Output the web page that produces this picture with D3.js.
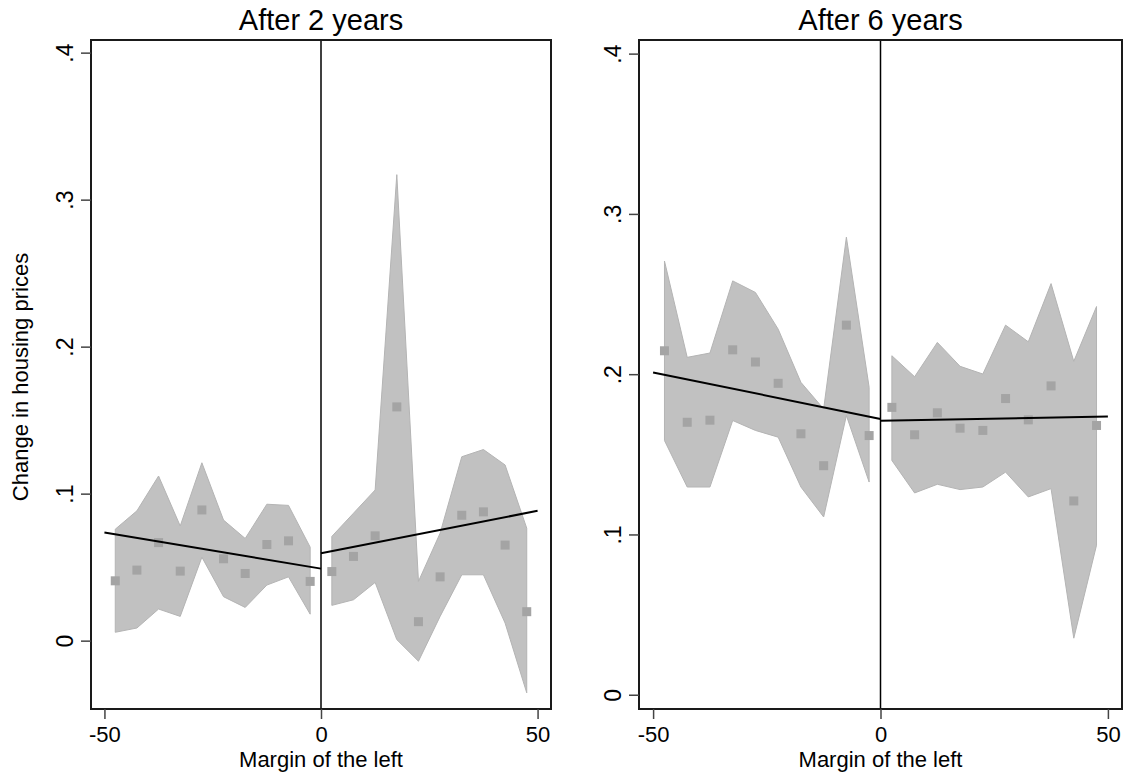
<!DOCTYPE html>
<html>
<head>
<meta charset="utf-8">
<script src="https://cdn.jsdelivr.net/npm/d3@7"></script>
<style>
  body { margin: 0; background: #fff; }
  text { font-family: "Liberation Sans", Arial, sans-serif; fill: #000; }
</style>
</head>
<body>
<div id="chart-area"></div>
<script>
// bin midpoints (margin of the left)
var bins = [-47.5, -42.5, -37.5, -32.5, -27.5, -22.5, -17.5, -12.5, -7.5, -2.5,
            2.5, 7.5, 12.5, 17.5, 22.5, 27.5, 32.5, 37.5, 42.5, 47.5];

// after 2 years
var mean2  = [0.0407, 0.048, 0.0667, 0.0473, 0.0889, 0.0557, 0.0457, 0.0654, 0.0679, 0.0403,
              0.047, 0.0573, 0.0713, 0.159, 0.0129, 0.0434, 0.0853, 0.0876, 0.065, 0.0197];
var upper2 = [0.0758, 0.0883, 0.112, 0.078, 0.121, 0.082, 0.0695, 0.0928, 0.092, 0.0636,
              0.0709, 0.0867, 0.1025, 0.317, 0.0403, 0.0731, 0.1251, 0.130, 0.1195, 0.0765];
var lower2 = [0.0057, 0.0086, 0.0215, 0.0165, 0.0568, 0.0299, 0.0226, 0.0378, 0.0434, 0.018,
              0.024, 0.0278, 0.0396, 0.0007, -0.014, 0.0165, 0.0448, 0.0448, 0.012, -0.0355];
var fitLeft2  = [[-50, 0.0735], [0, 0.049]];
var fitRight2 = [[0, 0.0595], [50, 0.0883]];

// after 6 years
var mean6  = [0.2146, 0.170, 0.1713, 0.2152, 0.2076, 0.1943, 0.1628, 0.1429, 0.2306, 0.1617,
              0.1793, 0.1622, 0.1759, 0.1663, 0.1649, 0.1848, 0.1715, 0.1927, 0.1209, 0.168];
var upper6 = [0.2706, 0.2105, 0.2132, 0.2582, 0.251, 0.2281, 0.1949, 0.1783, 0.2855, 0.1918,
              0.2115, 0.1984, 0.2198, 0.2049, 0.2001, 0.2306, 0.2202, 0.2565, 0.208, 0.2422];
var lower6 = [0.1586, 0.1296, 0.1296, 0.1711, 0.1649, 0.1607, 0.1296, 0.1109, 0.1742, 0.1327,
              0.1462, 0.1259, 0.1313, 0.128, 0.1296, 0.1389, 0.1234, 0.1286, 0.0353, 0.0933];
var fitLeft6  = [[-50, 0.2011], [0, 0.1721]];
var fitRight6 = [[0, 0.171], [50, 0.1736]];

var xTicks = [-50, 0, 50];
var xTickLabels = ["-50", "0", "50"];
var yTicks = [0, 0.1, 0.2, 0.3, 0.4];
var yTickLabels = ["0", ".1", ".2", ".3", ".4"];

var svg = d3.select("#chart-area")
  .append("svg")
  .attr("width", 1124)
  .attr("height", 772);

function drawPanel(p) {
  var x = d3.scaleLinear().domain([-53.1, 53.1]).range([p.left, p.right]);
  var y = d3.scaleLinear().domain(p.yDomain).range([p.bottom, p.top]);

  var g = svg.append("g").attr("class", "panel");

  var rows = bins.map(function(b, i) {
    return {x: b, m: p.mean[i], hi: p.upper[i], lo: p.lower[i]};
  });
  var sides = [rows.filter(function(d) { return d.x < 0; }),
               rows.filter(function(d) { return d.x > 0; })];

  var area = d3.area()
    .x(function(d) { return x(d.x); })
    .y0(function(d) { return y(d.lo); })
    .y1(function(d) { return y(d.hi); });

  g.append("g").selectAll("path")
    .data(sides)
    .enter()
    .append("path")
    .attr("d", area)
    .attr("fill", "#c1c1c1")
    .attr("stroke", "#b4b4b4")
    .attr("stroke-width", 1);

  // zero line
  g.append("line")
    .attr("x1", x(0)).attr("x2", x(0))
    .attr("y1", p.top).attr("y2", p.bottom)
    .attr("stroke", "#000")
    .attr("stroke-width", 1.5);

  var s = 9;
  g.append("g").selectAll("rect")
    .data(rows)
    .enter()
    .append("rect")
    .attr("x", function(d) { return x(d.x) - s / 2; })
    .attr("y", function(d) { return y(d.m) - s / 2; })
    .attr("width", s)
    .attr("height", s)
    .attr("fill", "#a4a4a4");

  var line = d3.line()
    .x(function(d) { return x(d[0]); })
    .y(function(d) { return y(d[1]); });

  g.append("g").selectAll("path")
    .data(p.fits)
    .enter()
    .append("path")
    .attr("d", line)
    .attr("fill", "none")
    .attr("stroke", "#000")
    .attr("stroke-width", 2);

  // frame
  g.append("rect")
    .attr("x", p.left).attr("y", p.top)
    .attr("width", p.right - p.left)
    .attr("height", p.bottom - p.top)
    .attr("fill", "none")
    .attr("stroke", "#1a1a1a")
    .attr("stroke-width", 2);

  // x axis
  var xAxis = d3.axisBottom(x).tickValues(xTicks).tickSize(10).tickPadding(6)
    .tickFormat(function(d, i) { return xTickLabels[i]; });
  var gx = g.append("g")
    .attr("transform", "translate(0," + p.bottom + ")")
    .call(xAxis);
  gx.select(".domain").remove();
  gx.selectAll(".tick line").attr("stroke", "#444").attr("stroke-width", 1.5);
  gx.selectAll(".tick text")
    .attr("font-size", "22px")
    .attr("font-family", "Liberation Sans, Arial, sans-serif")
    .attr("fill", "#000")
    .attr("dy", "0.76em");

  // y axis
  var yAxis = d3.axisLeft(y).tickValues(yTicks).tickSize(10)
    .tickFormat(function(d, i) { return yTickLabels[i]; });
  var gy = g.append("g")
    .attr("transform", "translate(" + p.left + ",0)")
    .call(yAxis);
  gy.select(".domain").remove();
  gy.selectAll(".tick line").attr("stroke", "#444").attr("stroke-width", 1.5);
  gy.selectAll(".tick text")
    .attr("font-size", "23px")
    .attr("font-family", "Liberation Sans, Arial, sans-serif")
    .attr("fill", "#000")
    .attr("text-anchor", "middle")
    .attr("x", null)
    .attr("dy", null)
    .attr("transform", "translate(-18,0) rotate(-90)");

  g.append("text")
    .attr("x", (p.left + p.right) / 2)
    .attr("y", 30)
    .attr("text-anchor", "middle")
    .attr("font-size", "29px")
    .text(p.title);

  g.append("text")
    .attr("x", x(0))
    .attr("y", 767)
    .attr("text-anchor", "middle")
    .attr("font-size", "22px")
    .text("Margin of the left");
}

drawPanel({
  title: "After 2 years",
  left: 91, right: 551, top: 40, bottom: 709,
  yDomain: [-0.0465, 0.4086],
  mean: mean2, upper: upper2, lower: lower2,
  fits: [fitLeft2, fitRight2]
});

drawPanel({
  title: "After 6 years",
  left: 639, right: 1122, top: 40, bottom: 709,
  yDomain: [-0.0089, 0.4085],
  mean: mean6, upper: upper6, lower: lower6,
  fits: [fitLeft6, fitRight6]
});

svg.append("text")
  .attr("transform", "translate(28,377) rotate(-90)")
  .attr("text-anchor", "middle")
  .attr("font-size", "22px")
  .text("Change in housing prices");
</script>
</body>
</html>
